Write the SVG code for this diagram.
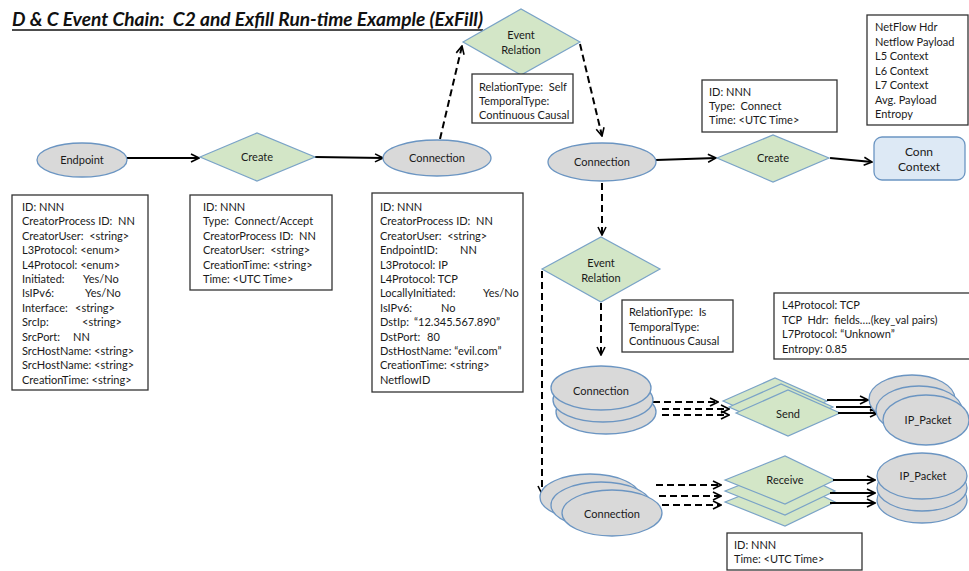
<svg xmlns="http://www.w3.org/2000/svg" width="969" height="571" viewBox="0 0 969 571" xml:space="preserve">
  <style>
    .t { font-family: Lato, "Liberation Sans", sans-serif; font-size: 11px; fill: #1a1a1a; white-space: pre; }
    .m { text-anchor: middle; }
    .title { font-family: Lato, "Liberation Sans", sans-serif; font-size: 19px; font-weight: bold; font-style: italic; fill: #111; white-space: pre; }
    .box { fill: #fff; stroke: #333; stroke-width: 1.3; }
    .ell { fill: #d9d9d9; stroke: #6b95c2; stroke-width: 1.3; }
    .dia { fill: #d3e6c7; stroke: #7aa3c7; stroke-width: 1.2; }
    .ctx { fill: #dde9f5; stroke: #6b95c2; stroke-width: 1.3; }
    .c { stroke: #000; stroke-width: 2; fill: none; }
    .d { stroke-dasharray: 7 4; }
  </style>
  <defs>
    <marker id="arr" viewBox="0 0 10 10" refX="9" refY="5" markerWidth="5" markerHeight="5" markerUnits="strokeWidth" orient="auto">
      <path d="M1,1 L9,5 L1,9" fill="none" stroke="#000" stroke-width="1.6"/>
    </marker>
  </defs>

  <rect width="969" height="571" fill="#fff"/>

  <!-- heading -->
  <g id="title">
    <text class="title" x="12" y="26" textLength="471" lengthAdjust="spacingAndGlyphs">D &amp; C Event Chain:  C2 and Exfill Run-time Example (ExFill)</text>
    <line x1="12" y1="30" x2="483" y2="30" stroke="#111" stroke-width="1.5"/>
  </g>

  <!-- connectors -->
  <g id="connectors">
    <line class="c" x1="127" y1="158" x2="199" y2="158" marker-end="url(#arr)"/>
    <line class="c" x1="315" y1="157" x2="383" y2="158" marker-end="url(#arr)"/>
    <line class="c d" x1="440" y1="139" x2="462" y2="46" marker-end="url(#arr)"/>
    <line class="c d" x1="580" y1="44" x2="602" y2="136" marker-end="url(#arr)"/>
    <line class="c" x1="656" y1="160" x2="716" y2="158" marker-end="url(#arr)"/>
    <line class="c" x1="830" y1="158" x2="872" y2="162" marker-end="url(#arr)"/>
    <line class="c d" x1="602" y1="183" x2="602" y2="235" marker-end="url(#arr)"/>
    <line class="c d" x1="601" y1="303" x2="601" y2="355" marker-end="url(#arr)"/>
    <line class="c d" x1="542" y1="271" x2="542" y2="494" marker-end="url(#arr)"/>
    <!-- connection stack to send stack -->
    <line class="c d" x1="653" y1="402" x2="718" y2="402" marker-end="url(#arr)"/>
    <line class="c d" x1="662" y1="409" x2="729" y2="409" marker-end="url(#arr)"/>
    <line class="c d" x1="662" y1="415" x2="729" y2="415" marker-end="url(#arr)"/>
    <!-- connection stack to receive stack -->
    <line class="c d" x1="656" y1="485" x2="721" y2="485" marker-end="url(#arr)"/>
    <line class="c d" x1="659" y1="496" x2="721" y2="496" marker-end="url(#arr)"/>
    <line class="c d" x1="662" y1="505" x2="721" y2="505" marker-end="url(#arr)"/>
  </g>

  <!-- Endpoint -->
  <g id="endpoint">
    <ellipse class="ell" cx="82" cy="160" rx="45" ry="17"/>
    <text class="t m" x="82" y="164">Endpoint</text>
  </g>
  <g id="endpoint-attrs">
    <rect class="box" x="12" y="195" width="136" height="195"/>
    <text class="t" x="22" y="211">ID: NNN</text>
    <text class="t" x="22" y="225.4">CreatorProcess ID:  NN</text>
    <text class="t" x="22" y="239.8">CreatorUser:  &lt;string&gt;</text>
    <text class="t" x="22" y="254.2">L3Protocol: &lt;enum&gt;</text>
    <text class="t" x="22" y="268.6">L4Protocol: &lt;enum&gt;</text>
    <text class="t" x="22" y="283">Initiated:<tspan x="83">Yes/No</tspan></text>
    <text class="t" x="22" y="297.4">IsIPv6:<tspan x="85">Yes/No</tspan></text>
    <text class="t" x="22" y="311.8">Interface:<tspan x="75">&lt;string&gt;</tspan></text>
    <text class="t" x="22" y="326.2">SrcIp:<tspan x="82">&lt;string&gt;</tspan></text>
    <text class="t" x="22" y="340.6">SrcPort:<tspan x="73">NN</tspan></text>
    <text class="t" x="22" y="355">SrcHostName: &lt;string&gt;</text>
    <text class="t" x="22" y="369.4">SrcHostName: &lt;string&gt;</text>
    <text class="t" x="22" y="383.8">CreationTime: &lt;string&gt;</text>
  </g>

  <!-- Create (first) -->
  <g id="create1">
    <polygon class="dia" points="200,157 257,133 315,157 257,181"/>
    <text class="t m" x="257" y="161">Create</text>
  </g>
  <g id="create1-attrs">
    <rect class="box" x="190" y="195" width="142" height="95"/>
    <text class="t" x="203" y="211">ID: NNN</text>
    <text class="t" x="203" y="225.4">Type:  Connect/Accept</text>
    <text class="t" x="203" y="239.8">CreatorProcess ID:  NN</text>
    <text class="t" x="203" y="254.2">CreatorUser:  &lt;string&gt;</text>
    <text class="t" x="203" y="268.6">CreationTime: &lt;string&gt;</text>
    <text class="t" x="203" y="283">Time: &lt;UTC Time&gt;</text>
  </g>

  <!-- Connection (first) -->
  <g id="connection1">
    <ellipse class="ell" cx="437" cy="158" rx="54" ry="18"/>
    <text class="t m" x="437" y="162">Connection</text>
  </g>
  <g id="connection1-attrs">
    <rect class="box" x="372" y="193" width="151" height="199"/>
    <text class="t" x="380" y="211">ID: NNN</text>
    <text class="t" x="380" y="225.4">CreatorProcess ID:  NN</text>
    <text class="t" x="380" y="239.8">CreatorUser:  &lt;string&gt;</text>
    <text class="t" x="380" y="254.2">EndpointID:<tspan x="460">NN</tspan></text>
    <text class="t" x="380" y="268.6">L3Protocol: IP</text>
    <text class="t" x="380" y="283">L4Protocol: TCP</text>
    <text class="t" x="380" y="297.4">LocallyInitiated:<tspan x="483">Yes/No</tspan></text>
    <text class="t" x="380" y="311.8">IsIPv6:<tspan x="441">No</tspan></text>
    <text class="t" x="380" y="326.2">DstIp:<tspan x="414">“12.345.567.890”</tspan></text>
    <text class="t" x="380" y="340.6">DstPort:<tspan x="427">80</tspan></text>
    <text class="t" x="380" y="355">DstHostName: “evil.com”</text>
    <text class="t" x="380" y="369.4">CreationTime: &lt;string&gt;</text>
    <text class="t" x="380" y="383.8">NetflowID</text>
  </g>

  <!-- Event Relation (self) -->
  <g id="event-relation1">
    <polygon class="dia" points="463,42 521,9 580,42 521,75"/>
    <text class="t m" x="521" y="39">Event</text>
    <text class="t m" x="521" y="54">Relation</text>
  </g>
  <g id="event-relation1-attrs">
    <rect class="box" x="472" y="74" width="101" height="49"/>
    <text class="t" x="479" y="91">RelationType:  Self</text>
    <text class="t" x="479" y="105">TemporalType:</text>
    <text class="t" x="479" y="119">Continuous Causal</text>
  </g>

  <!-- Connection (second) -->
  <g id="connection2">
    <ellipse class="ell" cx="602" cy="162" rx="54" ry="19"/>
    <text class="t m" x="602" y="166">Connection</text>
  </g>

  <!-- Create (second) -->
  <g id="create2-attrs">
    <rect class="box" x="702" y="80" width="135" height="52"/>
    <text class="t" x="709" y="96">ID: NNN</text>
    <text class="t" x="709" y="110">Type:  Connect</text>
    <text class="t" x="709" y="124">Time: &lt;UTC Time&gt;</text>
  </g>
  <g id="create2">
    <polygon class="dia" points="717,158 773,135 829,158 773,182"/>
    <text class="t m" x="773" y="162">Create</text>
  </g>

  <!-- Conn Context -->
  <g id="context-attrs">
    <rect class="box" x="867" y="15" width="101" height="110"/>
    <text class="t" x="875" y="31">NetFlow Hdr</text>
    <text class="t" x="875" y="45.5">Netflow Payload</text>
    <text class="t" x="875" y="60">L5 Context</text>
    <text class="t" x="875" y="74.5">L6 Context</text>
    <text class="t" x="875" y="89">L7 Context</text>
    <text class="t" x="875" y="103.5">Avg. Payload</text>
    <text class="t" x="875" y="118">Entropy</text>
  </g>
  <g id="conn-context">
    <rect class="ctx" x="874" y="137" width="91" height="43" rx="8"/>
    <text class="t m" x="919" y="156" style="font-size:12px">Conn</text>
    <text class="t m" x="919" y="171" style="font-size:12px">Context</text>
  </g>

  <!-- Event Relation (is) -->
  <g id="event-relation2">
    <polygon class="dia" points="542,269 601,237 660,269 601,302"/>
    <text class="t m" x="601" y="267">Event</text>
    <text class="t m" x="601" y="282">Relation</text>
  </g>
  <g id="event-relation2-attrs">
    <rect class="box" x="622" y="300" width="111" height="52"/>
    <text class="t" x="629" y="316">RelationType:  Is</text>
    <text class="t" x="629" y="330.5">TemporalType:</text>
    <text class="t" x="629" y="345">Continuous Causal</text>
  </g>

  <!-- packet header details -->
  <g id="packet-attrs">
    <rect class="box" x="774" y="293" width="198" height="66"/>
    <text class="t" x="782" y="309">L4Protocol: TCP</text>
    <text class="t" x="782" y="323.5">TCP  Hdr:  fields….(key_val pairs)</text>
    <text class="t" x="782" y="338">L7Protocol: “Unknown”</text>
    <text class="t" x="782" y="352.5">Entropy: 0.85</text>
  </g>

  <!-- outgoing connections -->
  <g id="connection-stack1">
    <ellipse class="ell" cx="606" cy="412" rx="50" ry="22"/>
    <ellipse class="ell" cx="603" cy="400" rx="50" ry="22"/>
    <ellipse class="ell" cx="601" cy="388" rx="50" ry="22"/>
    <text class="t m" x="601" y="395">Connection</text>
  </g>

  <!-- Send -->
  <g id="send-stack">
    <polygon class="dia" points="723,401 775,378 827,401 775,424"/>
    <polygon class="dia" points="729,407 781,384 833,407 781,430"/>
    <polygon class="dia" points="736,413 788,390 840,413 788,436"/>
    <text class="t m" x="788" y="418">Send</text>
  </g>
  <g id="send-links">
    <line class="c" x1="827" y1="400" x2="868" y2="400" marker-end="url(#arr)"/>
    <line class="c" x1="836" y1="407" x2="878" y2="407" marker-end="url(#arr)"/>
    <line class="c" x1="838" y1="413" x2="878" y2="413" marker-end="url(#arr)"/>
  </g>

  <!-- outgoing packets -->
  <g id="packet-stack1">
    <ellipse class="ell" cx="912" cy="399" rx="43" ry="24"/>
    <ellipse class="ell" cx="919" cy="410" rx="43" ry="24"/>
    <ellipse class="ell" cx="926" cy="420" rx="43" ry="25"/>
    <text class="t m" x="928" y="424">IP_Packet</text>
  </g>

  <!-- incoming connections -->
  <g id="connection-stack2">
    <ellipse class="ell" cx="590" cy="497" rx="50" ry="23"/>
    <ellipse class="ell" cx="601" cy="505" rx="50" ry="23"/>
    <ellipse class="ell" cx="612" cy="513" rx="50" ry="23"/>
    <text class="t m" x="612" y="518">Connection</text>
  </g>

  <!-- Receive -->
  <g id="receive-stack">
    <polygon class="dia" points="725,502 785,478 835,502 785,526"/>
    <polygon class="dia" points="725,491 785,467 835,491 785,515"/>
    <polygon class="dia" points="725,480 785,456 835,480 785,504"/>
    <text class="t m" x="785" y="484">Receive</text>
  </g>
  <g id="receive-links">
    <line class="c" x1="833" y1="480" x2="875" y2="480" marker-end="url(#arr)"/>
    <line class="c" x1="830" y1="493" x2="875" y2="493" marker-end="url(#arr)"/>
    <line class="c" x1="830" y1="503" x2="875" y2="503" marker-end="url(#arr)"/>
  </g>

  <!-- incoming packets -->
  <g id="packet-stack2">
    <ellipse class="ell" cx="922" cy="500" rx="45" ry="23"/>
    <ellipse class="ell" cx="922" cy="488" rx="45" ry="23"/>
    <ellipse class="ell" cx="922" cy="476" rx="45" ry="23"/>
    <text class="t m" x="923" y="480">IP_Packet</text>
  </g>

  <g id="receive-attrs">
    <rect class="box" x="727" y="533" width="135" height="37"/>
    <text class="t" x="734" y="549">ID: NNN</text>
    <text class="t" x="734" y="563">Time: &lt;UTC Time&gt;</text>
  </g>
</svg>
